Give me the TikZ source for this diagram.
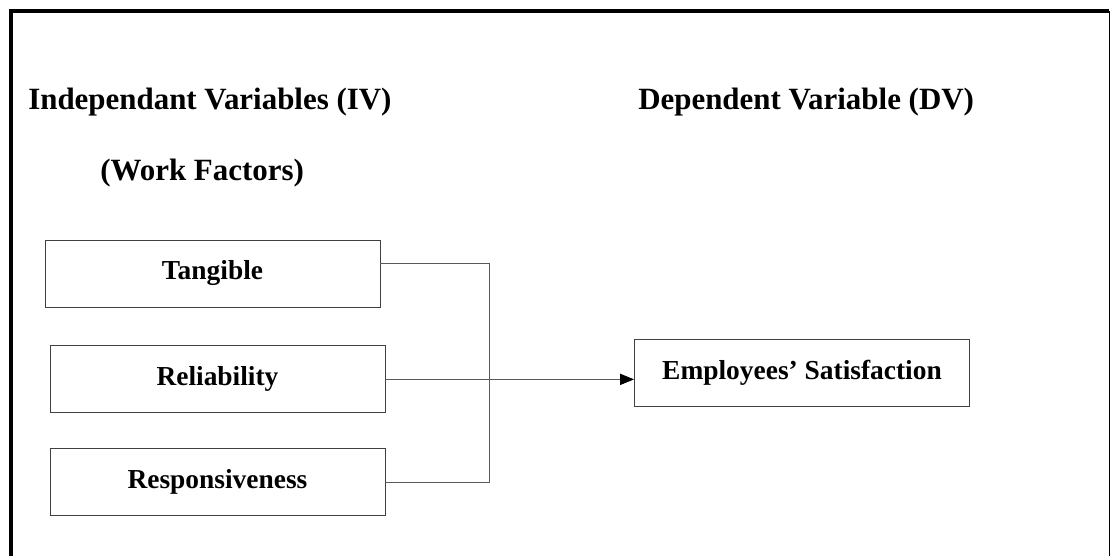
\documentclass[tikz,border=0pt]{standalone}
\usepackage{fontspec}
\setmainfont{Liberation Serif}
\usetikzlibrary{positioning,arrows.meta}

\begin{document}
\begin{tikzpicture}[x=0.025cm, y=-0.025cm, node distance=0.9cm,
  every node/.style={font=\fontsize{19.5}{23}\selectfont\bfseries},
  head/.style={font=\fontsize{22}{26}\selectfont\bfseries, inner sep=0pt, anchor=base west},
  box/.style={draw=black!75, line width=0.6pt, align=center, minimum height=1.675cm, minimum width=8.375cm},
  link/.style={draw=black!65, line width=0.7pt}]
\useasboundingbox (0,0) rectangle (1111,556);
% frame
\draw[line width=2.2pt] (11,560) -- (11,11) -- (1109,11);
\draw[line width=0.7pt] (1109,11) -- (1109,560);
% headings
\node[head] (ivhead) at (28,110) {Independant Variables (IV)};
\node[head] (wfhead) at (100,181) {(Work Factors)};
\node[head] (dvhead) at (638,110) {Dependent Variable (DV)};
% boxes
\node[box] (tang) at (212.5,273.5) {Tangible};
\node[box, below=0.95cm of tang.south west, anchor=north west, xshift=0.125cm] (rel) {Reliability};
\node[box, below=0.875cm of rel] (resp) {Responsiveness};
\node[box] (emp) at (802,372.5) {Employees' Satisfaction};
% connectors
\coordinate (bus) at (489.5,375);
\draw[link] ([yshift=0.25cm]tang.east) -| (resp.east -| bus) -- (resp.east);
\draw[link, -{Triangle[length=0.35cm, width=0.28cm, color=black]}] (rel.east) -- (rel.east -| emp.west);
\end{tikzpicture}
\end{document}
